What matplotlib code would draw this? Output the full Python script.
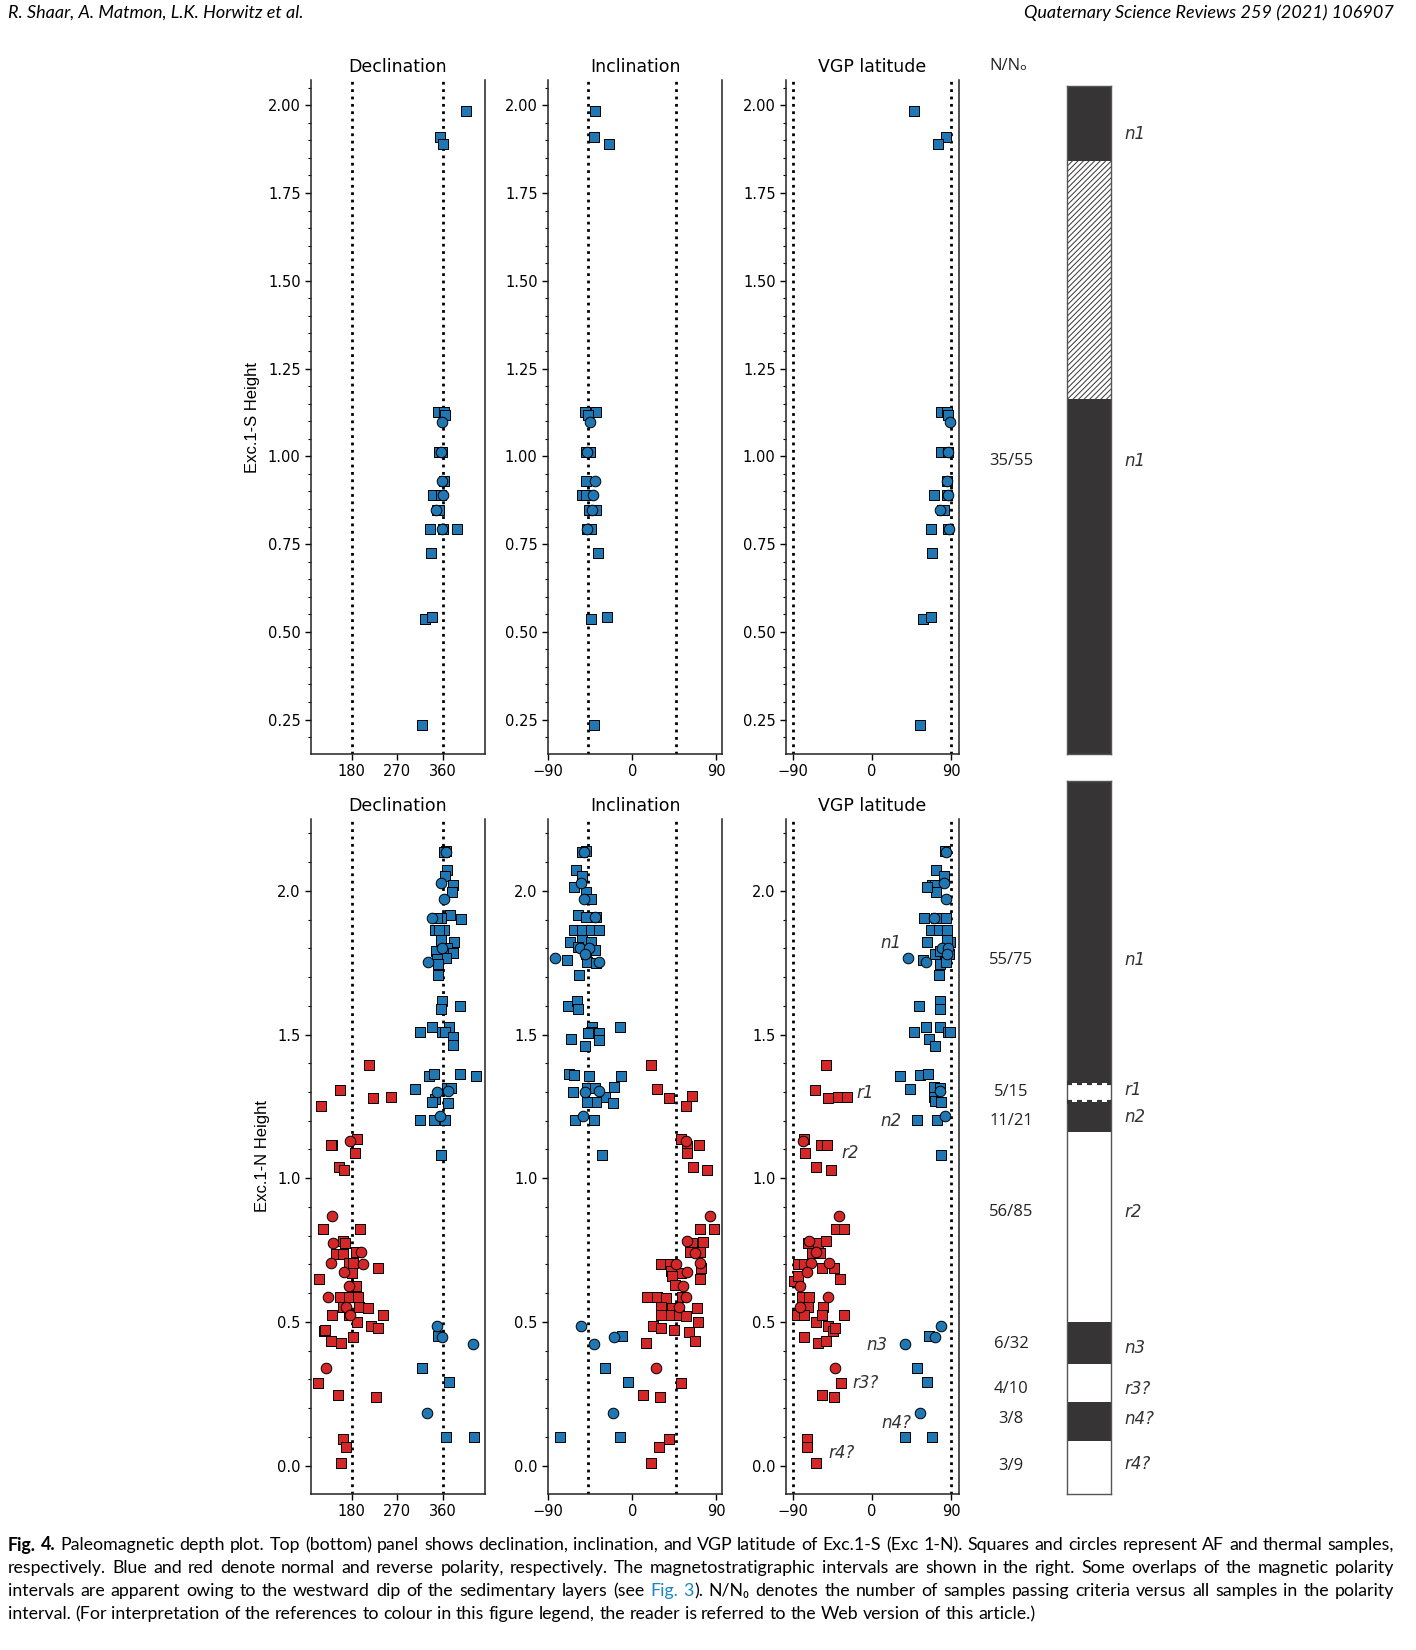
import re
import matplotlib
matplotlib.use('Agg')
import matplotlib.pyplot as plt
from matplotlib.ticker import MultipleLocator, AutoMinorLocator, FormatStrFormatter
from matplotlib import transforms

plt.rcParams['font.family'] = ['DejaVu Sans']
plt.rcParams['hatch.linewidth'] = 0.7
plt.rcParams['hatch.color'] = '#363435'

BLUE = '#1f77b4'
RED = '#d62728'
DARK = '#363435'

# ---- Exc.1-S (top row): (height, value), all normal polarity ----
top_dec_af = [(1.983, 406), (1.91, 355), (1.891, 361), (1.125, 350), (1.125, 362), (1.117, 364),
              (1.011, 353), (1.011, 358), (0.931, 362), (0.889, 340), (0.889, 357), (0.846, 348),
              (0.846, 352), (0.792, 334), (0.792, 361), (0.792, 387), (0.724, 336), (0.536, 324),
              (0.541, 338), (0.235, 319)]
top_dec_th = [(1.098, 359), (1.011, 357), (0.931, 359), (0.889, 361), (0.846, 346), (0.792, 358)]
top_inc_af = [(1.983, -40), (1.91, -41), (1.891, -25), (1.125, -50), (1.125, -39), (1.117, -47),
              (1.011, -49), (1.011, -45), (0.931, -49), (0.889, -54), (0.889, -49), (0.846, -46),
              (0.846, -39), (0.792, -48), (0.792, -44), (0.724, -37), (0.536, -44), (0.541, -27),
              (0.235, -41)]
top_inc_th = [(1.098, -45), (1.011, -48), (0.931, -40), (0.889, -42), (0.846, -43), (0.792, -48)]
top_vgp_af = [(1.983, 48), (1.91, 84), (1.891, 75), (1.125, 79), (1.125, 85), (1.117, 86),
              (1.011, 79), (1.011, 87), (0.931, 85), (0.889, 71), (0.889, 85), (0.846, 80),
              (0.846, 82), (0.792, 67), (0.792, 86), (0.724, 68), (0.536, 58), (0.541, 67),
              (0.235, 55)]
top_vgp_th = [(1.098, 89), (1.011, 87), (0.931, 85), (0.889, 87), (0.846, 77), (0.792, 88)]

# ---- Exc.1-N (bottom row) ----
bot_dec_n_af = [(2.138, 367), (2.135, 362), (2.071, 369), (2.05, 365), (2.02, 380), (1.997, 378),
                (1.916, 374), (1.902, 395), (1.907, 356), (1.907, 348), (1.862, 345), (1.862, 363),
                (1.862, 352), (1.823, 382), (1.83, 356), (1.792, 346), (1.80, 369), (1.784, 379),
                (1.767, 367), (1.764, 348), (1.747, 351), (1.706, 351), (1.60, 393), (1.615, 359),
                (1.59, 356), (1.509, 315), (1.527, 338), (1.527, 372), (1.509, 358), (1.509, 364),
                (1.49, 380), (1.463, 380), (1.311, 305), (1.357, 333), (1.362, 343), (1.362, 393),
                (1.357, 426), (1.315, 368), (1.315, 375), (1.274, 344), (1.266, 339), (1.26, 371),
                (1.203, 315), (1.203, 343), (1.203, 364), (1.08, 356), (0.452, 351), (0.339, 319),
                (0.292, 372), (0.101, 367), (0.101, 422)]
bot_dec_n_th = [(2.135, 366), (2.027, 357), (1.973, 363), (1.907, 338), (1.80, 358), (1.754, 330),
                (1.305, 370), (1.30, 349), (1.218, 355), (0.486, 349), (0.447, 358), (0.422, 420),
                (0.182, 328)]
bot_dec_r_af = [(1.394, 214), (1.308, 158), (1.252, 119), (1.279, 223), (1.284, 257), (1.116, 142),
                (1.116, 139), (1.136, 190), (1.087, 187), (1.038, 156), (1.028, 166), (0.823, 124),
                (0.823, 196), (0.78, 163), (0.776, 168), (0.737, 150), (0.737, 163), (0.742, 188),
                (0.705, 175), (0.704, 182), (0.689, 233), (0.65, 116), (0.67, 181), (0.625, 189),
                (0.586, 158), (0.586, 175), (0.586, 192), (0.553, 164), (0.553, 195), (0.55, 212),
                (0.524, 142), (0.524, 175), (0.525, 242), (0.50, 191), (0.486, 219), (0.479, 232),
                (0.469, 125), (0.471, 127), (0.435, 140), (0.427, 159), (0.449, 183), (0.286, 114),
                (0.245, 154), (0.238, 229), (0.093, 163), (0.063, 169), (0.008, 160)]
bot_dec_r_th = [(1.131, 176), (0.868, 142), (0.776, 144), (0.742, 198), (0.704, 139), (0.70, 202),
                (0.673, 166), (0.625, 175), (0.587, 133), (0.553, 169), (0.524, 176), (0.338, 130)]

bot_inc_n_af = [(2.138, -49), (2.135, -54), (2.071, -60), (2.05, -54), (2.014, -62), (1.997, -49),
                (1.97, -44), (1.916, -58), (1.909, -49), (1.909, -39), (1.862, -62), (1.862, -54),
                (1.862, -44), (1.862, -35), (1.823, -66), (1.83, -54), (1.823, -44), (1.803, -58),
                (1.794, -40), (1.78, -49), (1.758, -70), (1.754, -48), (1.75, -39), (1.706, -57),
                (1.60, -69), (1.615, -59), (1.59, -58), (1.485, -65), (1.46, -50), (1.527, -43),
                (1.509, -44), (1.505, -47), (1.505, -35), (1.48, -35), (1.527, -13), (1.362, -68),
                (1.36, -62.5), (1.357, -46), (1.357, -12.5), (1.30, -63), (1.313, -48.6),
                (1.315, -40), (1.283, -29), (1.266, -39), (1.266, -48), (1.26, -20), (1.318, -19.6),
                (1.203, -61), (1.203, -41), (1.08, -32), (0.452, -11), (0.339, -29), (0.292, -5),
                (0.101, -77), (0.101, -13)]
bot_inc_n_th = [(2.135, -51), (2.027, -55), (1.973, -51), (1.909, -40), (1.80, -56), (1.80, -46),
                (1.78, -50), (1.768, -82), (1.754, -35), (1.30, -50), (1.305, -36), (1.218, -53),
                (0.486, -55), (0.422, -41), (0.447, -19), (0.182, -20)]
bot_inc_r_af = [(1.394, 20), (1.311, 26), (1.279, 39), (1.285, 64), (1.252, 57), (1.136, 52),
                (1.112, 59), (1.116, 71), (1.087, 59), (1.038, 65), (1.028, 80), (0.823, 72.5),
                (0.823, 87.5), (0.776, 64), (0.778, 76), (0.742, 62), (0.742, 72), (0.70, 31),
                (0.689, 74), (0.70, 40), (0.678, 42), (0.67, 52), (0.658, 43), (0.65, 72),
                (0.628, 46), (0.586, 16), (0.586, 26), (0.582, 36), (0.586, 53), (0.553, 31),
                (0.55, 43), (0.55, 69), (0.524, 31), (0.525, 42), (0.524, 50), (0.52, 57),
                (0.50, 70), (0.486, 22), (0.479, 31), (0.47, 45), (0.466, 61), (0.435, 67),
                (0.427, 15), (0.286, 52), (0.245, 12), (0.238, 30), (0.093, 39), (0.063, 29),
                (0.008, 20)]
bot_inc_r_th = [(1.131, 57.5), (0.868, 83), (0.78, 59), (0.74, 67), (0.70, 47), (0.704, 72),
                (0.673, 59), (0.625, 54), (0.586, 58), (0.553, 50), (0.338, 25)]

bot_vgp_n_af = [(2.138, 83), (2.071, 73), (2.05, 82), (2.02, 68), (2.02, 72), (1.997, 73),
                (2.014, 62), (1.904, 59), (1.907, 73), (1.907, 84), (1.862, 67), (1.862, 76),
                (1.862, 85), (1.823, 63), (1.823, 89), (1.83, 85), (1.78, 72), (1.792, 77),
                (1.78, 88), (1.758, 58), (1.747, 77), (1.754, 84), (1.706, 76), (1.60, 54),
                (1.615, 77.5), (1.59, 77.5), (1.509, 48), (1.527, 61), (1.527, 77), (1.485, 65),
                (1.46, 72), (1.509, 86), (1.509, 88.5), (1.357, 32), (1.311, 43), (1.36, 55),
                (1.362, 64), (1.318, 70), (1.315, 77), (1.283, 70), (1.27, 72), (1.266, 79),
                (1.203, 51), (1.203, 74.5), (1.08, 79), (0.452, 65), (0.339, 51), (0.292, 62),
                (0.101, 37), (0.101, 68)]
bot_vgp_n_th = [(2.135, 84), (2.027, 82), (1.973, 84), (1.907, 70), (1.80, 80), (1.80, 87),
                (1.78, 85.5), (1.768, 41), (1.754, 61), (1.305, 77.5), (1.218, 83), (0.486, 78),
                (0.447, 72), (0.422, 37), (0.182, 55)]
bot_vgp_r_af = [(1.394, -53), (1.308, -65), (1.281, -39), (1.279, -50), (1.284, -29), (1.136, -78),
                (1.116, -58), (1.116, -51), (1.087, -76), (1.038, -64), (1.028, -47), (0.823, -41),
                (0.823, -32), (0.776, -73), (0.776, -62), (0.78, -52), (0.74, -68), (0.74, -59),
                (0.70, -84), (0.70, -78), (0.689, -43), (0.689, -57), (0.641, -89), (0.658, -84),
                (0.65, -37), (0.586, -80), (0.586, -72), (0.553, -73), (0.553, -56), (0.525, -85),
                (0.524, -77), (0.525, -32.5), (0.50, -63.5), (0.524, -57), (0.486, -50),
                (0.469, -44), (0.479, -42), (0.449, -78), (0.427, -62), (0.435, -53), (0.286, -35),
                (0.245, -57), (0.238, -43), (0.093, -74), (0.063, -74), (0.008, -64)]
bot_vgp_r_th = [(1.131, -79), (0.868, -38), (0.78, -72), (0.742, -63.5), (0.704, -70),
                (0.705, -49), (0.673, -74), (0.625, -82), (0.587, -50), (0.553, -82), (0.338, -42)]

# interval labels inside the bottom VGP panel: (text, vgp, height)
vgp_labels = [('n1', 22, 1.82), ('r1', -7.6, 1.295), ('n2', 22, 1.20), ('r2', -25, 1.088),
              ('n3', 6, 0.418), ('r3?', -7.6, 0.287), ('n4?', 28, 0.149), ('r4?', -35, 0.045)]

# polarity columns
top_bar_bounds = [2.055, 1.841, 1.164, 0.152]
top_bar_kind = ['n', 'hatch', 'n']
top_nn = ['35/55']
top_nn_h = [0.987]
top_names = ['n1', 'n1']
top_names_h = [1.919, 0.987]

bot_bar_bounds = [2.385, 1.334, 1.268, 1.162, 0.500, 0.354, 0.223, 0.087, -0.099]
bot_bar_kind = ['n', 'r_dotted', 'n', 'r', 'n', 'r', 'n', 'r']
bot_nn = ['55/75', '5/15', '11/21', '56/85', '6/32', '4/10', '3/8', '3/9']
bot_nn_h = [1.763, 1.301, 1.202, 0.883, 0.422, 0.268, 0.162, 0.0]
bot_names = ['n1', 'r1', 'n2', 'r2', 'n3', 'r3?', 'n4?', 'r4?']
bot_names_h = [1.763, 1.308, 1.213, 0.883, 0.41, 0.268, 0.162, 0.005]

W, H = 1416, 1650
fig = plt.figure(figsize=(W / 100, H / 100), dpi=100)


def rect(x0, y0, x1, y1):
    return [x0 / W, 1 - y1 / H, (x1 - x0) / W, (y1 - y0) / H]


def scatter(ax, pts, color, marker):
    if not pts:
        return
    h, v = zip(*pts)
    ax.scatter(v, h, s=58, marker=marker, c=color, edgecolors='black', linewidths=0.7, zorder=3)


def panel(ax, title, groups, xlim, xticks, vlines, ylim, major, fmt):
    for x in vlines:
        ax.axvline(x, color='black', ls=':', lw=2, zorder=2)
    for pts, color, marker in groups:
        scatter(ax, pts, color, marker)
    ax.set_xlim(*xlim)
    ax.set_ylim(*ylim)
    ax.set_xticks(xticks)
    ax.yaxis.set_major_locator(MultipleLocator(major))
    ax.yaxis.set_minor_locator(AutoMinorLocator(5))
    ax.yaxis.set_major_formatter(FormatStrFormatter(fmt))
    ax.spines['top'].set_visible(False)
    for s in ['left', 'right', 'bottom']:
        ax.spines[s].set_color('#222222')
        ax.spines[s].set_linewidth(1.1)
    ax.tick_params(which='major', direction='out', length=4, width=1, labelsize=10.5)
    ax.tick_params(which='minor', direction='out', length=2.5, width=0.8)
    ax.set_title(title, fontsize=12.5, pad=6)


cols = [(311, 485), (548, 722), (786, 959)]
rows = [(80, 754), (819, 1494)]
dec_lim, inc_lim, vgp_lim = (100, 443), (-90, 96), (-98, 99)
top_ylim, bot_ylim = (0.152, 2.072), (-0.099, 2.25)

top_groups = [
    ('Declination', [(top_dec_af, BLUE, 's'), (top_dec_th, BLUE, 'o')], dec_lim, [180, 270, 360], [180, 360]),
    ('Inclination', [(top_inc_af, BLUE, 's'), (top_inc_th, BLUE, 'o')], inc_lim, [-90, 0, 90], [-47, 47]),
    ('VGP latitude', [(top_vgp_af, BLUE, 's'), (top_vgp_th, BLUE, 'o')], vgp_lim, [-90, 0, 90], [-90, 90]),
]
bot_groups = [
    ('Declination', [(bot_dec_n_af, BLUE, 's'), (bot_dec_r_af, RED, 's'),
                     (bot_dec_n_th, BLUE, 'o'), (bot_dec_r_th, RED, 'o')], dec_lim, [180, 270, 360], [180, 360]),
    ('Inclination', [(bot_inc_n_af, BLUE, 's'), (bot_inc_r_af, RED, 's'),
                     (bot_inc_n_th, BLUE, 'o'), (bot_inc_r_th, RED, 'o')], inc_lim, [-90, 0, 90], [-47, 47]),
    ('VGP latitude', [(bot_vgp_n_af, BLUE, 's'), (bot_vgp_r_af, RED, 's'),
                      (bot_vgp_n_th, BLUE, 'o'), (bot_vgp_r_th, RED, 'o')], vgp_lim, [-90, 0, 90], [-90, 90]),
]

narrow = ['Liberation Sans', 'DejaVu Sans']
for (y0, y1), groups, ylim, major, fmt, ylab, labx in [
        (rows[0], top_groups, top_ylim, 0.25, '%.2f', 'Exc.1-S Height', -0.293),
        (rows[1], bot_groups, bot_ylim, 0.5, '%.1f', 'Exc.1-N Height', -0.236)]:
    axes = []
    for (x0, x1), (title, grp, xlim, xt, vl) in zip(cols, groups):
        ax = fig.add_axes(rect(x0, y0, x1, y1))
        panel(ax, title, grp, xlim, xt, vl, ylim, major, fmt)
        axes.append(ax)
    axes[0].set_ylabel(ylab, family=narrow, fontsize=12)
    axes[0].yaxis.set_label_coords(labx, 0.5)
    if ylab.startswith('Exc.1-N'):
        for txt, x, y in vgp_labels:
            axes[2].text(x, y, txt, fontsize=12, style='italic', color='#333333',
                         ha='center', va='center')


def polarity_bar(y0, y1, bounds, kinds, nn, nn_h, names, names_h):
    ax = fig.add_axes(rect(1067, y0, 1111, y1))
    ax.set_xlim(0, 1)
    ax.set_ylim(bounds[-1], bounds[0])
    ax.set_xticks([])
    ax.set_yticks([])
    for s in ax.spines.values():
        s.set_color('#555555')
        s.set_linewidth(1.0)
    for hi, lo, k in zip(bounds[:-1], bounds[1:], kinds):
        if k == 'n':
            ax.axhspan(lo, hi, color=DARK, lw=0)
        elif k == 'hatch':
            ax.axhspan(lo, hi, facecolor='white', edgecolor=DARK, hatch='//////', lw=0)
        elif k == 'r_dotted':
            ax.axhspan(lo, hi, color='white', lw=0)
            ax.axhline(hi, color=DARK, ls=(0, (1.2, 1.2)), lw=3, zorder=3)
            ax.axhline(lo, color=DARK, ls=(0, (1.2, 1.2)), lw=3, zorder=3)
    tr = transforms.blended_transform_factory(fig.transFigure, ax.transData)
    for t, h in zip(nn, nn_h):
        ax.text(1011 / W, h, t, transform=tr, ha='center', va='center', fontsize=12,
                family=['Open Sans', 'DejaVu Sans'], color='#222222')
    for t, h in zip(names, names_h):
        ax.text(1124 / W, h, t, transform=tr, ha='left', va='center', fontsize=12,
                style='italic', color='#333333')


polarity_bar(86, 754, top_bar_bounds, top_bar_kind, top_nn, top_nn_h, top_names, top_names_h)
polarity_bar(781, 1494, bot_bar_bounds, bot_bar_kind, bot_nn, bot_nn_h, bot_names, bot_names_h)
fig.text(1008 / W, 1 - 66 / H, 'N/Nₒ', ha='center', va='center', fontsize=12,
         family=['Open Sans', 'DejaVu Sans'], color='#222222')

# page header
fig.text(8 / W, 1 - 13 / H, 'R. Shaar, A. Matmon, L.K. Horwitz et al.', ha='left', va='center',
         fontsize=13, style='italic', family=['Lato', 'DejaVu Sans'])
fig.text(1394 / W, 1 - 13 / H, 'Quaternary Science Reviews 259 (2021) 106907', ha='right',
         va='center', fontsize=13, style='italic', family=['Lato', 'DejaVu Sans'])

# caption, justified word by word
caption = [
    "**Fig.** **4.** Paleomagnetic depth plot. Top (bottom) panel shows declination, inclination, and VGP latitude of Exc.1-S (Exc 1-N). Squares and circles represent AF and thermal samples,",
    "respectively. Blue and red denote normal and reverse polarity, respectively. The magnetostratigraphic intervals are shown in the right. Some overlaps of the magnetic polarity",
    "intervals are apparent owing to the westward dip of the sedimentary layers (see ^^Fig.^^ ^^3^^). N/N₀ denotes the number of samples passing criteria versus all samples in the polarity",
    "interval. (For interpretation of the references to colour in this figure legend, the reader is referred to the Web version of this article.)",
]
cap_y = [1545, 1568, 1591, 1614]
cap_x0, cap_x1 = 8, 1394
renderer = fig.canvas.get_renderer()
cap_font = dict(fontsize=12.8, family=['Lato', 'DejaVu Sans'], va='center')


def piece_style(p):
    if p.startswith('**'):
        return p[2:-2], dict(weight='bold')
    if p.startswith('^^'):
        return p[2:-2], dict(color='#1a86c4')
    return p, {}


def word_width(pieces):
    w = 0
    for p in pieces:
        txt, st = piece_style(p)
        t = fig.text(0, 0, txt, **cap_font, **st)
        w += t.get_window_extent(renderer).width
        t.remove()
    return w


probe = fig.text(0, 0, 'a a', **cap_font)
space_w = probe.get_window_extent(renderer).width
probe.remove()
probe = fig.text(0, 0, 'aa', **cap_font)
space_w -= probe.get_window_extent(renderer).width
probe.remove()

for i, (line, yy) in enumerate(zip(caption, cap_y)):
    words = [[p for p in re.split(r'(\*\*.*?\*\*|\^\^.*?\^\^)', tok) if p] for tok in line.split(' ')]
    widths = [word_width(w) for w in words]
    if i < len(caption) - 1:
        gap = (cap_x1 - cap_x0 - sum(widths)) / (len(words) - 1)
    else:
        gap = space_w
    x = cap_x0
    for w, ww in zip(words, widths):
        xp = x
        for p in w:
            txt, st = piece_style(p)
            t = fig.text(xp / W, 1 - yy / H, txt, ha='left', **cap_font, **st)
            xp += t.get_window_extent(renderer).width
        x += ww + gap

fig.savefig('out.png', dpi=100)
